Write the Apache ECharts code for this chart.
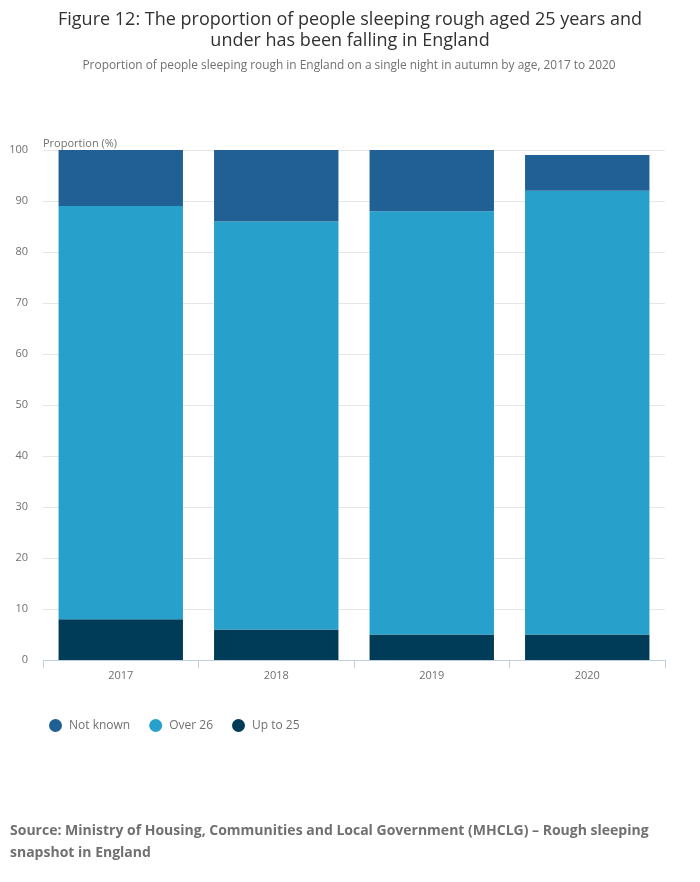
<!DOCTYPE html>
<html>
<head>
<meta charset="utf-8">
<script src="https://cdn.jsdelivr.net/npm/echarts@6/dist/echarts.min.js"></script>
<style>
html,body{margin:0;padding:0;background:#fff;}
#chart{width:700px;height:882px;}
</style>
</head>
<body>
<div id="chart"></div>
<script>
var categories = ['2017', '2018', '2019', '2020'];
var upTo25 = [8, 6, 5, 5];
var over26 = [81, 80, 83, 87];
var notKnown = [11, 14, 12, 7];
var yTicks = [0, 10, 20, 30, 40, 50, 60, 70, 80, 90, 100];

var chart = echarts.init(document.getElementById('chart'));
var font = '"Open Sans", sans-serif';
chart.setOption({
  animation: false,
  textStyle: {fontFamily: font},
  title: [{
    text: 'Figure 12: The proportion of people sleeping rough aged 25 years and\nunder has been falling in England',
    left: 345, top: 4, textAlign: 'center',
    textStyle: {fontFamily: font, fontSize: 18, fontWeight: 'normal', color: '#323132', lineHeight: 21}
  }, {
    text: 'Proportion of people sleeping rough in England on a single night in autumn by age, 2017 to 2020',
    left: 344, top: 55, textAlign: 'center',
    textStyle: {fontFamily: font, fontSize: 11.9, fontWeight: 'normal', color: '#707070'}
  }],
  legend: {
    left: 44, top: 714,
    itemWidth: 13, itemHeight: 13, itemGap: 19,
    icon: 'circle',
    data: ['Not known', 'Over 26', 'Up to 25'],
    textStyle: {fontFamily: font, fontSize: 12, color: '#707070', padding: [0, 0, 0, 2]}
  },
  grid: {left: 43, right: 35, top: 150, bottom: 222, containLabel: false},
  xAxis: {
    type: 'category', data: categories,
    axisLine: {lineStyle: {color: '#bfcfe0'}},
    axisTick: {show: true, length: 8, lineStyle: {color: '#bfcfe0'}},
    axisLabel: {color: '#707070', fontSize: 11, margin: 10, fontFamily: font}
  },
  yAxis: {
    type: 'value', min: 0, max: 100, interval: 10,
    name: 'Proportion (%)', nameLocation: 'end',
    nameGap: 1,
    nameTextStyle: {align: 'left', color: '#707070', fontSize: 11, fontFamily: font, padding: [0,0,0,0]},
    axisLine: {show: false}, axisTick: {show: false},
    axisLabel: {color: '#707070', fontSize: 11, margin: 15, fontFamily: font,
      formatter: function (v) { return yTicks.indexOf(v) >= 0 ? String(v) : ''; }},
    splitLine: {lineStyle: {color: '#e6e6e6'}}
  },
  series: [{
    name: 'Up to 25', type: 'bar', stack: 'a', data: upTo25,
    barWidth: '80%', itemStyle: {color: '#003c57'}
  }, {
    name: 'Over 26', type: 'bar', stack: 'a', data: over26,
    barWidth: '80%', itemStyle: {color: '#27a0cc'}
  }, {
    name: 'Not known', type: 'bar', stack: 'a', data: notKnown,
    barWidth: '80%', itemStyle: {color: '#206095'}
  }],
  graphic: [{
    type: 'text', left: 10, top: 820,
    style: {
      text: 'Source: Ministry of Housing, Communities and Local Government (MHCLG) – Rough sleeping\nsnapshot in England',
      font: 'bold 14px "Open Sans", sans-serif', fill: '#707070', lineHeight: 22
    }
  }]
});
</script>
</body>
</html>
